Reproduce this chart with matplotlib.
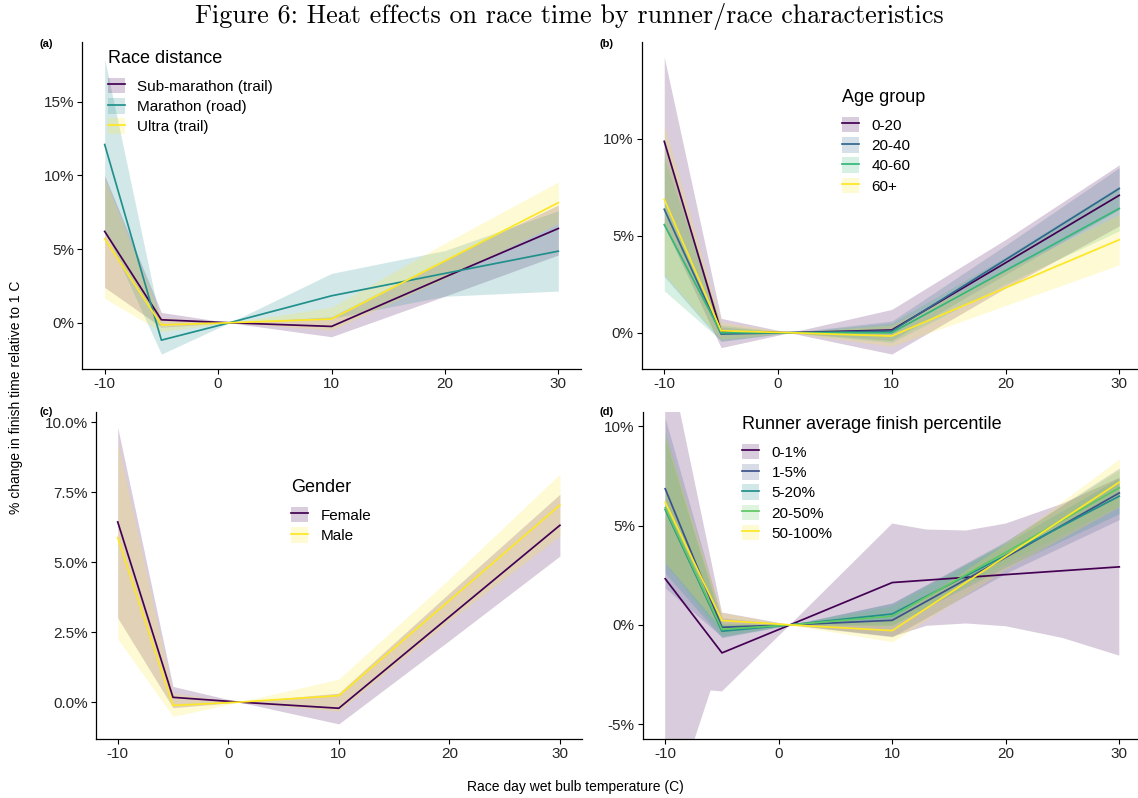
import numpy as np
import matplotlib
matplotlib.use("Agg")
import matplotlib.pyplot as plt
from matplotlib.patches import Patch
from matplotlib.lines import Line2D

plt.rcParams['font.family'] = ['Liberation Sans', 'DejaVu Sans']
plt.rcParams['axes.unicode_minus'] = False

# temperature points (C)
temp = [-10, -5, 1, 10, 20, 30]

# (a) race distance
dist_names = ["Sub-marathon (trail)", "Marathon (road)", "Ultra (trail)"]
dist_est = [[6.2, 0.2, 0, -0.25, 3.1, 6.4],
            [12.1, -1.18, 0, 1.83, 3.35, 4.86],
            [5.7, -0.15, 0, 0.25, 4.2, 8.15]]
dist_lo = [[2.4, -0.3, 0, -0.95, 1.8, 4.6],
           [6.3, -2.13, 0, 0.3, 1.8, 2.15],
           [1.65, -0.6, 0, -0.5, 3.0, 6.75]]
dist_hi = [[10.0, 0.7, 0, 0.4, 4.3, 8.0],
           [17.9, -0.25, 0, 3.35, 4.9, 7.6],
           [9.75, 0.35, 0, 1.05, 5.4, 9.55]]

# (b) age group
age_names = ["0-20", "20-40", "40-60", "60+"]
age_est = [[9.86, 0.05, 0, 0.14, 3.6, 7.08],
           [6.36, -0.07, 0, 0.09, 3.76, 7.43],
           [5.57, 0, 0, 0, 3.2, 6.4],
           [6.88, 0.1, 0, -0.17, 2.31, 4.79]]
age_lo = [[5.5, -0.77, 0, -1.1, 2.3, 5.5],
          [2.9, -0.45, 0, -0.4, 3.0, 6.35],
          [2.16, -0.4, 0, -0.5, 2.5, 5.25],
          [3.0, -0.35, 0, -0.7, 1.4, 3.5]]
age_hi = [[14.2, 0.74, 0, 1.2, 4.8, 8.65],
          [9.8, 0.3, 0, 0.6, 4.5, 8.5],
          [9.0, 0.4, 0, 0.5, 3.9, 7.55],
          [10.7, 0.55, 0, 0.4, 3.2, 6.1]]

# (c) gender
sex_names = ["Female", "Male"]
sex_est = [[6.44, 0.17, 0, -0.22, 3.05, 6.32],
           [5.88, -0.12, 0, 0.23, 3.63, 7.04]]
sex_lo = [[3.01, -0.2, 0, -0.78, 2.2, 5.22],
          [2.26, -0.51, 0, -0.33, 2.9, 5.94]]
sex_hi = [[9.82, 0.56, 0, 0.32, 3.9, 7.43],
          [9.3, 0.32, 0, 0.82, 4.4, 8.15]]

# (d) runner average finish percentile
pct_names = ["0-1%", "1-5%", "5-20%", "20-50%", "50-100%"]
pct_est = [[2.32, -1.41, 0, 2.13, 2.53, 2.92],
           [6.85, -0.12, 0, 0.23, 3.4, 6.64],
           [5.8, -0.32, 0, 0.55, 3.5, 6.48],
           [5.89, -0.23, 0, 0.44, 3.65, 6.9],
           [6.17, 0.22, 0, -0.29, 3.45, 7.18]]
pct_lo = [None,
          [1.86, -0.6, 0, -0.6, 2.6, 5.3],
          [2.6, -0.65, 0, 0.0, 2.9, 5.6],
          [3.1, -0.55, 0, -0.05, 3.1, 6.0],
          [3.13, -0.2, 0, -0.85, 2.8, 5.95]]
pct_hi = [None,
          [10.4, 0.35, 0, 1.1, 4.2, 7.9],
          [9.4, 0.05, 0, 1.1, 4.1, 7.4],
          [9.74, 0.1, 0, 0.95, 4.2, 7.8],
          [9.5, 0.62, 0, 0.3, 4.1, 8.35]]
# the 0-1% band is wide and curved, read at more points
top_lo_x = [-10, -7.5, -6, -5, 1, 10, 13, 16.5, 20, 25, 30]
top_lo = [-12, -5.9, -3.3, -3.35, 0, -0.6, -0.05, 0.07, -0.07, -0.66, -1.55]
top_hi_x = [-10, -5, 1, 10, 13, 16.5, 20, 25, 30]
top_hi = [14.3, 0.62, 0, 5.1, 4.8, 4.75, 5.1, 6.1, 7.4]

vir = {2: ["#440154", "#FDE725"],
       3: ["#440154", "#21908C", "#FDE725"],
       4: ["#440154", "#31688E", "#35B779", "#FDE725"],
       5: ["#440154", "#3B528B", "#21908C", "#5DC863", "#FDE725"]}

W, H = 1138, 798
fig = plt.figure(figsize=(W / 100, H / 100), dpi=100)


def px_axes(l, t, r, b):
    return fig.add_axes([l / W, 1 - b / H, (r - l) / W, (b - t) / H])


def panel(ax, names, est, lo, hi, ylim, yticks, ylabels, leg_title, leg_xy):
    cols = vir[len(names)]
    for i, c in enumerate(cols):
        if lo[i] is None:
            ax.fill(np.r_[top_lo_x, top_hi_x[::-1]], np.r_[top_lo, top_hi[::-1]],
                    color=c, alpha=0.2, lw=0)
        else:
            ax.fill_between(temp, lo[i], hi[i], color=c, alpha=0.2, lw=0)
    for i, c in enumerate(cols):
        ax.plot(temp, est[i], color=c, lw=1.25)
    ax.set_xlim(-12, 32)
    ax.set_ylim(*ylim)
    ax.set_xticks([-10, 0, 10, 20, 30])
    ax.set_yticks(yticks)
    ax.set_yticklabels(ylabels)
    for s in ["top", "right"]:
        ax.spines[s].set_visible(False)
    for s in ["left", "bottom"]:
        ax.spines[s].set_linewidth(0.9)
    ax.tick_params(direction="out", length=3.5, width=0.8, pad=2,
                   labelsize=11, labelcolor="#262626")
    handles = [(Patch(facecolor=c, alpha=0.2, lw=0), Line2D([], [], color=c, lw=1.25))
               for c in cols]
    leg = ax.legend(handles, names, title=leg_title, loc="upper left",
                    bbox_to_anchor=(leg_xy[0] / W, 1 - leg_xy[1] / H),
                    bbox_transform=fig.transFigure, frameon=False, fontsize=11,
                    title_fontsize=13, alignment="left", borderpad=0,
                    handlelength=1.15, handleheight=1.2, labelspacing=0.28,
                    handletextpad=0.8)
    leg._legend_box.sep = 8


axa = px_axes(82, 42, 581, 369)
panel(axa, dist_names, dist_est, dist_lo, dist_hi, (-3.14, 19.06),
      [0, 5, 10, 15], ["0%", "5%", "10%", "15%"], "Race distance", (100, 42))

axb = px_axes(641.5, 42, 1142, 369)
panel(axb, age_names, age_est, age_lo, age_hi, (-1.87, 14.98),
      [0, 5, 10], ["0%", "5%", "10%"], "Age group", (834, 81))

axc = px_axes(95.6, 411.7, 582, 739.3)
panel(axc, sex_names, sex_est, sex_lo, sex_hi, (-1.33, 10.38),
      [0, 2.5, 5, 7.5, 10], ["0.0%", "2.5%", "5.0%", "7.5%", "10.0%"],
      "Gender", (283, 471))

axd = px_axes(642.5, 411.7, 1142, 739.3)
panel(axd, pct_names, pct_est, pct_lo, pct_hi, (-5.76, 10.73),
      [-5, 0, 5, 10], ["-5%", "0%", "5%", "10%"],
      "Runner average finish percentile", (734, 408))

for tag, x, y in [("(a)", 40, 44), ("(b)", 600, 44), ("(c)", 40, 412), ("(d)", 600, 412)]:
    fig.text(x / W, 1 - y / H, tag, fontsize=8, fontweight="bold", va="center")

fig.text(16 / W, 1 - 397 / H, "% change in finish time relative to 1 C",
         rotation=90, ha="center", va="center", fontsize=10)
fig.text(575 / W, 1 - 787 / H, "Race day wet bulb temperature (C)",
         ha="center", va="center", fontsize=10)
fig.text(0.5, 1 - 17 / H, "Figure 6: Heat effects on race time by runner/race characteristics",
         ha="center", va="center", fontsize=18.8, family="cmr10")

fig.savefig("out.png", dpi=100)
